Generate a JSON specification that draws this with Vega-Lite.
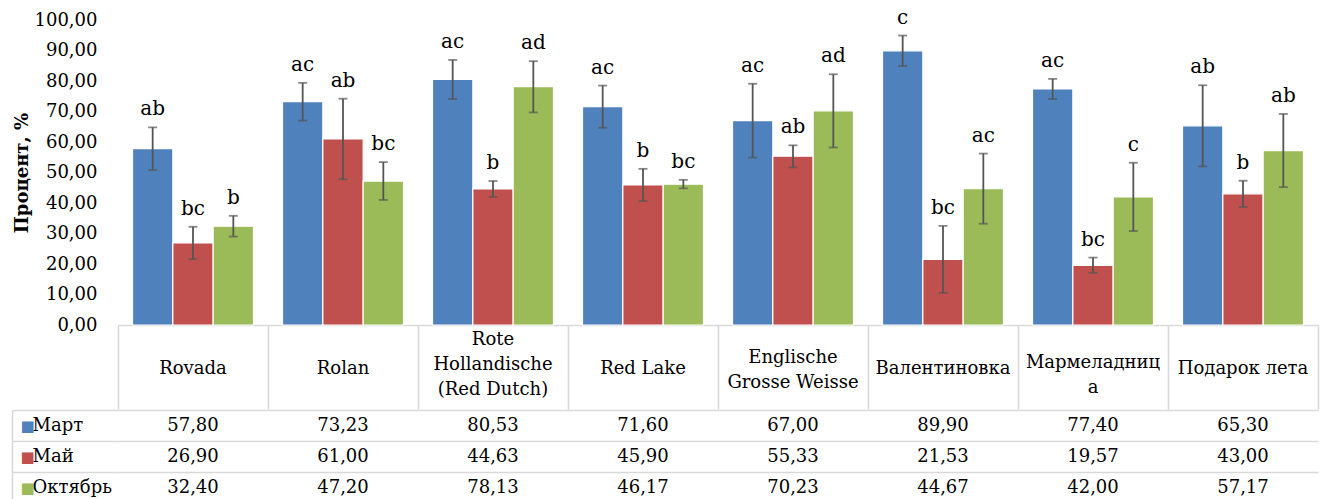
{
  "$schema": "https://vega.github.io/schema/vega-lite/v6.json",
  "background": "white",
  "padding": {"left": 11, "top": 7, "right": 5, "bottom": 0},
  "spacing": -14,
  "config": {
    "view": {"stroke": null},
    "locale": {"number": {"decimal": ",", "thousands": " ", "grouping": [3], "currency": ["", ""]}},
    "font": "DejaVu Serif",
    "axis": {"labelFont": "DejaVu Serif", "titleFont": "DejaVu Serif", "labelColor": "#000000", "titleColor": "#000000"}
  },
  "datasets": {
    "pct": [
      {"cultivar": "Rovada", "month": "Март", "value": 57.80, "lo": 50.8, "hi": 64.8, "letter": "ab"},
      {"cultivar": "Rovada", "month": "Май", "value": 26.90, "lo": 21.6, "hi": 32.2, "letter": "bc"},
      {"cultivar": "Rovada", "month": "Октябрь", "value": 32.40, "lo": 29.0, "hi": 35.8, "letter": "b"},
      {"cultivar": "Rolan", "month": "Март", "value": 73.23, "lo": 67.0, "hi": 79.4, "letter": "ac"},
      {"cultivar": "Rolan", "month": "Май", "value": 61.00, "lo": 47.8, "hi": 74.2, "letter": "ab"},
      {"cultivar": "Rolan", "month": "Октябрь", "value": 47.20, "lo": 41.0, "hi": 53.4, "letter": "bc"},
      {"cultivar": "Rote Hollandische (Red Dutch)", "month": "Март", "value": 80.53, "lo": 74.1, "hi": 86.9, "letter": "ac"},
      {"cultivar": "Rote Hollandische (Red Dutch)", "month": "Май", "value": 44.63, "lo": 42.0, "hi": 47.2, "letter": "b"},
      {"cultivar": "Rote Hollandische (Red Dutch)", "month": "Октябрь", "value": 78.13, "lo": 69.7, "hi": 86.5, "letter": "ad"},
      {"cultivar": "Red Lake", "month": "Март", "value": 71.60, "lo": 64.7, "hi": 78.5, "letter": "ac"},
      {"cultivar": "Red Lake", "month": "Май", "value": 45.90, "lo": 40.6, "hi": 51.2, "letter": "b"},
      {"cultivar": "Red Lake", "month": "Октябрь", "value": 46.17, "lo": 44.8, "hi": 47.6, "letter": "bc"},
      {"cultivar": "Englische Grosse Weisse", "month": "Март", "value": 67.00, "lo": 54.9, "hi": 79.1, "letter": "ac"},
      {"cultivar": "Englische Grosse Weisse", "month": "Май", "value": 55.33, "lo": 51.7, "hi": 58.9, "letter": "ab"},
      {"cultivar": "Englische Grosse Weisse", "month": "Октябрь", "value": 70.23, "lo": 58.2, "hi": 82.2, "letter": "ad"},
      {"cultivar": "Валентиновка", "month": "Март", "value": 89.90, "lo": 84.9, "hi": 94.9, "letter": "c"},
      {"cultivar": "Валентиновка", "month": "Май", "value": 21.53, "lo": 10.5, "hi": 32.5, "letter": "bc"},
      {"cultivar": "Валентиновка", "month": "Октябрь", "value": 44.67, "lo": 33.2, "hi": 56.2, "letter": "ac"},
      {"cultivar": "Мармеладница", "month": "Март", "value": 77.40, "lo": 74.1, "hi": 80.7, "letter": "ac"},
      {"cultivar": "Мармеладница", "month": "Май", "value": 19.57, "lo": 17.1, "hi": 22.1, "letter": "bc"},
      {"cultivar": "Мармеладница", "month": "Октябрь", "value": 42.00, "lo": 30.8, "hi": 53.2, "letter": "c"},
      {"cultivar": "Подарок лета", "month": "Март", "value": 65.30, "lo": 52.0, "hi": 78.6, "letter": "ab"},
      {"cultivar": "Подарок лета", "month": "Май", "value": 43.00, "lo": 38.7, "hi": 47.3, "letter": "b"},
      {"cultivar": "Подарок лета", "month": "Октябрь", "value": 57.17, "lo": 45.2, "hi": 69.2, "letter": "ab"}
    ]
  },
  "vconcat": [
    {
      "width": 1200,
      "height": 305,
      "data": {"name": "pct"},
      "encoding": {
        "x": {"field": "cultivar", "type": "nominal", "sort": null, "scale": {"paddingInner": 0, "paddingOuter": 0}, "axis": null},
        "xOffset": {"field": "month", "type": "nominal", "sort": ["Март", "Май", "Октябрь"], "scale": {"paddingInner": 0, "paddingOuter": 0.36}}
      },
      "layer": [
        {
          "mark": {"type": "bar", "stroke": "white", "strokeWidth": 1.2},
          "encoding": {
            "x": {"field": "cultivar", "type": "nominal", "sort": null, "scale": {"paddingInner": 0, "paddingOuter": 0},
              "axis": {"orient": "bottom", "labels": false, "ticks": true, "tickBand": "extent", "tickSize": 84, "tickColor": "#d9d9d9", "tickWidth": 1.6, "domain": true, "domainColor": "#d9d9d9", "domainWidth": 1.6, "grid": false, "title": null}},
            "y": {"field": "value", "type": "quantitative", "scale": {"domain": [0, 100], "nice": false},
              "axis": {"values": [0, 10, 20, 30, 40, 50, 60, 70, 80, 90, 100], "format": ".2f", "labelFontSize": 18, "labelPadding": 21, "ticks": false, "domain": false, "grid": false, "title": "Процент, %", "titleFontWeight": "bold", "titleFontSize": 18, "titlePadding": 3}},
            "color": {"field": "month", "type": "nominal", "scale": {"domain": ["Март", "Май", "Октябрь"], "range": ["#4F81BD", "#C0504D", "#9BBB59"]}, "legend": null}
          }
        },
        {
          "mark": {"type": "rule", "color": "#555555", "strokeWidth": 1.8},
          "encoding": {
            "x": {"field": "cultivar", "type": "nominal", "sort": null, "scale": {"paddingInner": 0, "paddingOuter": 0},
              "axis": {"orient": "bottom", "values": ["Rote Hollandische (Red Dutch)"], "labels": true, "ticks": false, "domain": false, "grid": false, "labelPadding": 14, "labelBaseline": "middle", "labelAngle": 0, "labelFontSize": 18, "labelLineHeight": 25, "labelOverlap": false, "labelLimit": 0, "title": null,
                "labelExpr": "['Rote', 'Hollandische', '(Red Dutch)']"}},
            "y": {"field": "lo", "type": "quantitative",
              "axis": {"values": [0, 10, 20, 30, 40, 50, 60, 70, 80, 90, 100], "format": ".2f", "labelFontSize": 18, "labelPadding": 21, "ticks": false, "domain": false, "grid": false, "title": "Процент, %", "titleFontWeight": "bold", "titleFontSize": 18, "titlePadding": 3}},
            "y2": {"field": "hi"}
          }
        },
        {
          "mark": {"type": "tick", "color": "#555555", "thickness": 1.8, "size": 9},
          "encoding": {
            "x": {"field": "cultivar", "type": "nominal", "sort": null, "scale": {"paddingInner": 0, "paddingOuter": 0},
              "axis": {"orient": "bottom", "values": ["Englische Grosse Weisse"], "labels": true, "ticks": false, "domain": false, "grid": false, "labelPadding": 32, "labelBaseline": "middle", "labelAngle": 0, "labelFontSize": 18, "labelLineHeight": 25, "labelOverlap": false, "labelLimit": 0, "title": null,
                "labelExpr": "['Englische', 'Grosse Weisse']"}},
            "y": {"field": "lo", "type": "quantitative",
              "axis": {"values": [0, 10, 20, 30, 40, 50, 60, 70, 80, 90, 100], "format": ".2f", "labelFontSize": 18, "labelPadding": 21, "ticks": false, "domain": false, "grid": false, "title": "Процент, %", "titleFontWeight": "bold", "titleFontSize": 18, "titlePadding": 3}}
          }
        },
        {
          "mark": {"type": "tick", "color": "#555555", "thickness": 1.8, "size": 9},
          "encoding": {
            "x": {"field": "cultivar", "type": "nominal", "sort": null, "scale": {"paddingInner": 0, "paddingOuter": 0},
              "axis": {"orient": "bottom", "values": ["Мармеладница"], "labels": true, "ticks": false, "domain": false, "grid": false, "labelPadding": 37, "labelBaseline": "middle", "labelAngle": 0, "labelFontSize": 18, "labelLineHeight": 25, "labelOverlap": false, "labelLimit": 0, "title": null,
                "labelExpr": "['Мармеладниц', 'а']"}},
            "y": {"field": "hi", "type": "quantitative",
              "axis": {"values": [0, 10, 20, 30, 40, 50, 60, 70, 80, 90, 100], "format": ".2f", "labelFontSize": 18, "labelPadding": 21, "ticks": false, "domain": false, "grid": false, "title": "Процент, %", "titleFontWeight": "bold", "titleFontSize": 18, "titlePadding": 3}}
          }
        },
        {
          "mark": {"type": "text", "baseline": "alphabetic", "dy": -12, "fontSize": 20, "font": "DejaVu Serif", "color": "#000000"},
          "encoding": {
            "x": {"field": "cultivar", "type": "nominal", "sort": null, "scale": {"paddingInner": 0, "paddingOuter": 0},
              "axis": {"orient": "bottom", "values": ["Rovada", "Rolan", "Red Lake", "Валентиновка", "Подарок лета"], "labels": true, "ticks": false, "domain": false, "grid": false, "labelPadding": 43, "labelBaseline": "middle", "labelAngle": 0, "labelFontSize": 18, "labelOverlap": false, "labelLimit": 0, "title": null}},
            "y": {"field": "hi", "type": "quantitative",
              "axis": {"values": [0, 10, 20, 30, 40, 50, 60, 70, 80, 90, 100], "format": ".2f", "labelFontSize": 18, "labelPadding": 21, "ticks": false, "domain": false, "grid": false, "title": "Процент, %", "titleFontWeight": "bold", "titleFontSize": 18, "titlePadding": 3}},
            "text": {"field": "letter"}
          }
        }
      ],
      "resolve": {"axis": {"x": "independent"}}
    },
    {
      "width": 1200,
      "height": 93,
      "data": {"name": "pct"},
      "encoding": {
        "x": {"field": "cultivar", "type": "nominal", "sort": null, "scale": {"paddingInner": 0, "paddingOuter": 0}, "axis": null},
        "y": {"field": "month", "type": "nominal", "sort": ["Март", "Май", "Октябрь"], "scale": {"paddingInner": 0, "paddingOuter": 0}, "axis": null}
      },
      "layer": [
        {
          "mark": {"type": "text", "fontSize": 18, "font": "DejaVu Serif", "color": "#000000"},
          "encoding": {
            "x": {"field": "cultivar", "type": "nominal", "sort": null, "scale": {"paddingInner": 0, "paddingOuter": 0},
              "axis": {"orient": "bottom", "labels": false, "ticks": false, "domain": false, "grid": true, "tickBand": "extent", "gridColor": "#d9d9d9", "gridWidth": 1.6, "title": null}},
            "y": {"field": "month", "type": "nominal", "sort": ["Март", "Май", "Октябрь"], "scale": {"paddingInner": 0, "paddingOuter": 0},
              "axis": {"orient": "left", "grid": true, "tickBand": "extent", "gridColor": "#d9d9d9", "gridWidth": 1.6, "ticks": false, "tickSize": 0, "domain": false, "labelAlign": "left", "labelBaseline": "middle", "labelPadding": 86, "labelFontSize": 18, "title": null}},
            "text": {"field": "value", "type": "quantitative", "format": ".2f"}
          }
        },
        {
          "mark": {"type": "text"},
          "encoding": {
            "y": {"field": "month", "type": "nominal", "sort": ["Март", "Май", "Октябрь"], "scale": {"paddingInner": 0, "paddingOuter": 0},
              "axis": {"orient": "left", "grid": false, "ticks": false, "tickSize": 0, "domain": false, "labelExpr": "'■'", "labelFont": "DejaVu Sans", "labelFontSize": 15, "labelAlign": "left", "labelBaseline": "middle", "labelPadding": 98,
                "labelColor": {"condition": [{"test": "datum.value === 'Март'", "value": "#4F81BD"}, {"test": "datum.value === 'Май'", "value": "#C0504D"}], "value": "#9BBB59"}, "title": null}},
            "text": {"value": ""}
          }
        },
        {
          "mark": {"type": "text"},
          "encoding": {
            "y": {"field": "month", "type": "nominal", "sort": ["Март", "Май", "Октябрь"], "scale": {"paddingInner": 0, "paddingOuter": 0},
              "axis": {"orient": "left", "labels": false, "ticks": true, "tickBand": "extent", "tickSize": 106, "tickColor": "#d9d9d9", "tickWidth": 1.6, "domain": false, "grid": false, "title": null}},
            "text": {"value": ""}
          }
        },
        {
          "mark": {"type": "text"},
          "encoding": {
            "y": {"field": "month", "type": "nominal", "sort": ["Март", "Май", "Октябрь"], "scale": {"paddingInner": 0, "paddingOuter": 0},
              "axis": {"orient": "left", "offset": 106, "labels": false, "ticks": false, "domain": true, "domainColor": "#d9d9d9", "domainWidth": 1.6, "grid": false, "title": null}},
            "text": {"value": ""}
          }
        }
      ],
      "resolve": {"axis": {"y": "independent"}}
    }
  ]
}
